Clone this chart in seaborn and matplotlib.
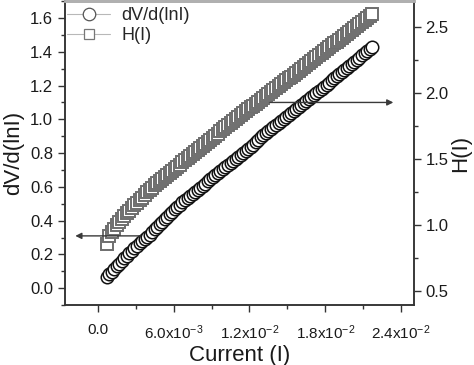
import numpy as np
import matplotlib
matplotlib.use("Agg")
import matplotlib.pyplot as plt
import seaborn as sns
from matplotlib.ticker import MultipleLocator
from matplotlib.lines import Line2D

# Current sweep, read in mA
current_mA = [0.7, 0.9, 1.1, 1.3, 1.5, 1.7, 1.9, 2.1, 2.3, 2.5, 2.7, 2.9, 3.1, 3.3, 3.5,
              3.7, 3.9, 4.1, 4.3, 4.5, 4.7, 4.9, 5.1, 5.3, 5.5, 5.7, 5.9, 6.1, 6.3, 6.5,
              6.7, 6.9, 7.1, 7.3, 7.5, 7.7, 7.9, 8.1, 8.3, 8.5, 8.7, 8.9, 9.1, 9.3, 9.5,
              9.7, 9.9, 10.1, 10.3, 10.5, 10.7, 10.9, 11.1, 11.3, 11.5, 11.7, 11.9,
              12.1, 12.3, 12.5, 12.7, 12.9, 13.1, 13.3, 13.5, 13.7, 13.9, 14.1, 14.3,
              14.5, 14.7, 14.9, 15.1, 15.3, 15.5, 15.7, 15.9, 16.1, 16.3, 16.5, 16.7,
              16.9, 17.1, 17.3, 17.5, 17.7, 17.9, 18.1, 18.3, 18.5, 18.7, 18.9, 19.1,
              19.3, 19.5, 19.7, 19.9, 20.1, 20.3, 20.5, 20.7, 20.9, 21.1, 21.3, 21.5,
              21.7]

# dV/d(lnI), left axis
dv_dlni = [0.065, 0.082, 0.098, 0.114, 0.130, 0.146, 0.162, 0.178, 0.193, 0.208, 0.223,
           0.238, 0.252, 0.265, 0.278, 0.291, 0.303, 0.318, 0.333, 0.348, 0.363, 0.378,
           0.393, 0.408, 0.423, 0.438, 0.453, 0.467, 0.481, 0.495, 0.509, 0.523, 0.536,
           0.548, 0.560, 0.572, 0.584, 0.596, 0.608, 0.620, 0.632, 0.644, 0.656, 0.668,
           0.680, 0.692, 0.704, 0.716, 0.728, 0.740, 0.752, 0.764, 0.776, 0.788, 0.800,
           0.812, 0.824, 0.837, 0.851, 0.865, 0.879, 0.893, 0.906, 0.918, 0.930, 0.942,
           0.954, 0.966, 0.978, 0.990, 1.002, 1.014, 1.026, 1.038, 1.050, 1.062, 1.074,
           1.086, 1.098, 1.110, 1.122, 1.134, 1.146, 1.158, 1.170, 1.182, 1.194, 1.206,
           1.218, 1.230, 1.242, 1.254, 1.266, 1.278, 1.290, 1.302, 1.314, 1.326, 1.339,
           1.352, 1.365, 1.378, 1.391, 1.404, 1.417, 1.430]

# H(I), right axis
h_i = [0.86, 0.92, 0.95, 0.975, 1.00, 1.024, 1.048, 1.070, 1.090, 1.110, 1.130, 1.150,
       1.170, 1.190, 1.210, 1.230, 1.250, 1.269, 1.286, 1.303, 1.320, 1.337, 1.353,
       1.368, 1.383, 1.398, 1.413, 1.428, 1.444, 1.460, 1.476, 1.492, 1.508, 1.524,
       1.540, 1.556, 1.572, 1.588, 1.603, 1.618, 1.633, 1.648, 1.663, 1.679, 1.695,
       1.711, 1.727, 1.743, 1.758, 1.773, 1.788, 1.803, 1.818, 1.833, 1.848, 1.863,
       1.878, 1.893, 1.908, 1.923, 1.938, 1.953, 1.967, 1.981, 1.995, 2.009, 2.023,
       2.038, 2.053, 2.068, 2.083, 2.098, 2.113, 2.128, 2.143, 2.158, 2.173, 2.188,
       2.203, 2.218, 2.233, 2.248, 2.263, 2.278, 2.293, 2.308, 2.323, 2.337, 2.351,
       2.365, 2.379, 2.393, 2.408, 2.423, 2.438, 2.453, 2.468, 2.483, 2.498, 2.513,
       2.528, 2.543, 2.557, 2.571, 2.586, 2.600]

x_ticks = [0.0, 0.006, 0.012, 0.018, 0.024]
x_tick_labels = ["0.0", r"6.0x10$^{-3}$", r"1.2x10$^{-2}$", r"1.8x10$^{-2}$", r"2.4x10$^{-2}$"]

current = np.array(current_mA) * 1e-3

sns.set_style("ticks")
plt.rcParams["font.family"] = ["Liberation Sans", "DejaVu Sans"]
plt.rcParams["mathtext.default"] = "regular"

fig = plt.figure(figsize=(4.74, 3.65), dpi=100)
ax = fig.add_axes([0.137, 0.164, 0.736, 0.833])
ax2 = ax.twinx()

line_col = "#b8b8b8"
sns.lineplot(x=current, y=dv_dlni, ax=ax, color=line_col, lw=0.8, marker="o",
             markersize=9, markerfacecolor="white", markeredgecolor="#111111",
             markeredgewidth=1.1, sort=False)
sns.lineplot(x=current, y=h_i, ax=ax2, color=line_col, lw=0.8, marker="s",
             markersize=8, markerfacecolor="white", markeredgecolor="#6e6e6e",
             markeredgewidth=1.4, sort=False)

ax.set_xlim(-0.0026, 0.025)
ax.set_ylim(-0.1, 1.7)
ax2.set_ylim(0.394, 2.70)

ax.set_xticks(x_ticks)
ax.set_xticklabels(x_tick_labels)
ax.xaxis.set_minor_locator(MultipleLocator(0.003))
ax.yaxis.set_major_locator(MultipleLocator(0.2))
ax.yaxis.set_minor_locator(MultipleLocator(0.1))
ax2.yaxis.set_major_locator(MultipleLocator(0.5))
ax2.yaxis.set_minor_locator(MultipleLocator(0.25))
ax.yaxis.set_major_formatter(plt.FormatStrFormatter("%.1f"))
ax2.yaxis.set_major_formatter(plt.FormatStrFormatter("%.1f"))

spine_col = "#333333"
for a in (ax, ax2):
    for side in ("left", "bottom", "right"):
        a.spines[side].set_color(spine_col)
        a.spines[side].set_linewidth(1.1)
    a.spines["top"].set_color("#b0b0b0")
    a.spines["top"].set_linewidth(2)
    a.tick_params(which="major", direction="out", length=5, width=1,
                  color=spine_col, labelsize=12, labelcolor="#1a1a1a")
    a.tick_params(which="minor", direction="out", length=3, width=1, color=spine_col)
ax.tick_params(axis="x", pad=8, labelsize=11)

ax.set_xlabel("Current (I)", fontsize=16, color="#1a1a1a", labelpad=2)
ax.set_ylabel("dV/d(lnI)", fontsize=16, color="#1a1a1a", labelpad=4)
ax2.set_ylabel("H(I)", fontsize=16, color="#1a1a1a", labelpad=1)

# arrows pointing to the axis of each curve
arrow_props = dict(arrowstyle="-|>", color="#3a3a3a", lw=1.0, mutation_scale=9)
ax2.annotate("", xy=(-0.0020, 0.31), xytext=(0.0036, 0.31),
             xycoords=ax.transData, textcoords=ax.transData, arrowprops=arrow_props)
ax2.annotate("", xy=(0.0236, 1.10), xytext=(0.0134, 1.10),
             xycoords=ax.transData, textcoords=ax.transData, arrowprops=arrow_props)

handles = [
    Line2D([], [], color=line_col, lw=0.8, marker="o", markersize=9,
           markerfacecolor="white", markeredgecolor="#555555", markeredgewidth=0.9),
    Line2D([], [], color=line_col, lw=0.8, marker="s", markersize=7.5,
           markerfacecolor="white", markeredgecolor="#777777", markeredgewidth=0.9),
]
ax2.legend(handles, ["dV/d(lnI)", "H(I)"], loc="upper left", frameon=False,
           fontsize=13, handlelength=2.4, handletextpad=0.6, labelspacing=0.15,
           borderaxespad=0.2, bbox_to_anchor=(-0.025, 1.015))

fig.savefig("out.png", dpi=100)
